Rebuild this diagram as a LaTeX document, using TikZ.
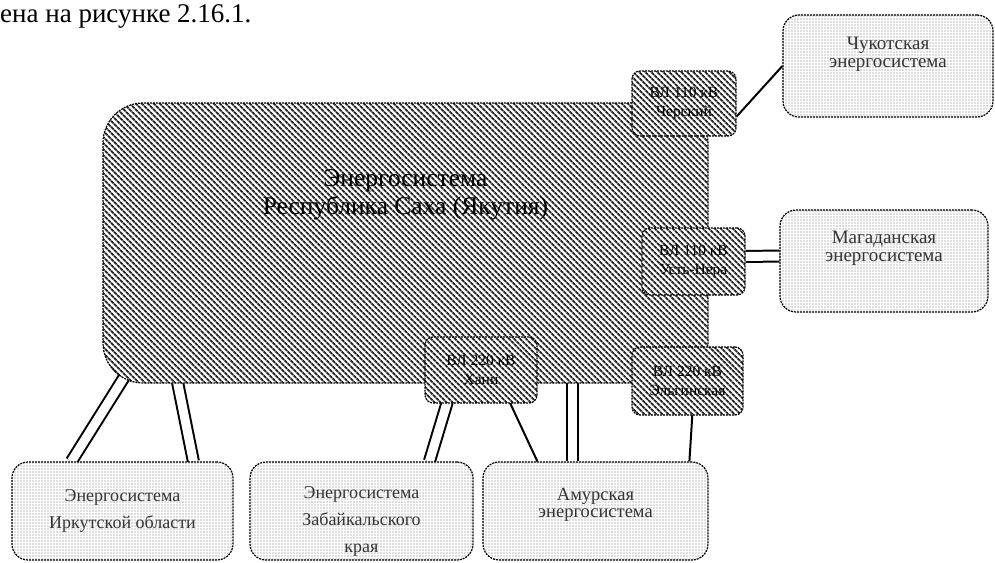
\documentclass[tikz,border=0pt]{standalone}
\usepackage{fontspec}
\setmainfont{Liberation Serif}
\usetikzlibrary{calc,patterns.meta,backgrounds}

\begin{document}
\begin{tikzpicture}[
  x=1pt, y=-1pt,
  hatch/.style={pattern={Lines[angle=-45,distance=4pt,line width=2pt]}, pattern color=black!85},
  dotfill/.style={pattern={Dots[distance=3pt,radius=0.7pt]}, pattern color=black!55},
  sysbox/.style={draw, preaction={fill=white}, hatch, rounded corners=40pt, line width=1.2pt, dash pattern=on 2pt off 1pt, align=center, inner sep=0pt},
  linebox/.style={draw, preaction={fill=white}, hatch, rounded corners=8pt, line width=1.2pt, dash pattern=on 2pt off 1pt, align=center, inner sep=0pt, font=\fontsize{15.5}{19}\selectfont},
  extbox/.style={draw, preaction={fill=white}, dotfill, rounded corners=16pt, line width=1.2pt, dash pattern=on 2pt off 1pt, align=center, inner sep=0pt, text=black!80},
  dbl/.style={double=white, double distance=9pt, line width=2pt},
  wire/.style={line width=2pt}
]
  \useasboundingbox (0,0) rectangle (995,562);

  % caption fragment above the scheme
  \node[anchor=base west, inner sep=0pt, font=\fontsize{27}{30}\selectfont] (caption) at (0,22) {ена на рисунке 2.16.1.};

  % main system and its ties
  \node[sysbox, minimum width=605pt, minimum height=280pt, font=\fontsize{25.5}{30}\selectfont] (yak) at (405.5,243) {\raisebox{42pt}[0pt][0pt]{\begin{tabular}{c}Энергосистема\\[-2pt] Республика Саха (Якутия)\end{tabular}}};

  \node[extbox, minimum width=210pt, minimum height=102pt, font=\fontsize{19}{21}\selectfont] (chuk) at (888,66) {\raisebox{7pt}[0pt][0pt]{\begin{tabular}{c}Чукотская\\[-3pt] энергосистема\end{tabular}}};
  \node[extbox, minimum width=208pt, minimum height=102pt, font=\fontsize{19}{21}\selectfont] (mag) at (884,261) {\raisebox{8pt}[0pt][0pt]{\begin{tabular}{c}Магаданская\\[-3pt] энергосистема\end{tabular}}};
  \node[extbox, minimum width=221pt, minimum height=98pt, font=\fontsize{18}{27}\selectfont] (irk) at (122.5,511) {Энергосистема\\ Иркутской области};
  \node[extbox, minimum width=223pt, minimum height=98pt, font=\fontsize{18}{27}\selectfont] (zab) at (361.5,511) {\raisebox{-13pt}[0pt][0pt]{\begin{tabular}{c}Энергосистема\\ Забайкальского\\ края\end{tabular}}};
  \node[extbox, minimum width=225pt, minimum height=98pt, font=\fontsize{18.5}{19}\selectfont] (amur) at (595.5,511) {\raisebox{1pt}[0pt][0pt]{\begin{tabular}{c}Амурская\\[-2pt] энергосистема\end{tabular}}};

  \node[linebox, minimum width=104pt, minimum height=65pt] (vl1) at (684,103.5) {ВЛ 110 кВ\\ Черский};
  \node[linebox, minimum width=103pt, minimum height=67pt] (vl2) at (693.5,261.5) {ВЛ 110 кВ\\ Усть-Нера};
  \node[linebox, minimum width=112pt, minimum height=66pt] (vl3) at (481,370) {ВЛ 220 кВ\\ Хани};
  \node[linebox, minimum width=111pt, minimum height=68pt] (vl4) at (687.5,381) {ВЛ 220 кВ\\ Эльгинская};

  \begin{scope}[on background layer]
    \draw[wire] ($(vl1.east)+(0,13)$) -- ($(chuk.west)+(0,0)$);
    \draw[dbl] ($(vl2.east)+(0,-5)$) -- ($(mag.west)+(0,-5)$);
    \draw[dbl] ($(yak.south west)+(24,-10)$) -- ($(irk.north west)+(60,0)$);
    \draw[dbl] ($(yak.south west)+(75,-2)$) -- ($(irk.north west)+(182,0)$);
    \draw[dbl] ($(vl3.south west)+(23,-2)$) -- ($(zab.north west)+(180,0)$);
    \draw[wire] ($(vl3.south west)+(85,-2)$) -- ($(amur.north west)+(55,0)$);
    \draw[dbl] ($(yak.south west)+(470,-2)$) -- ($(amur.north west)+(90,0)$);
    \draw[wire] ($(vl4.south west)+(61,-2)$) -- ($(amur.north west)+(207,0)$);
  \end{scope}
\end{tikzpicture}
\end{document}
